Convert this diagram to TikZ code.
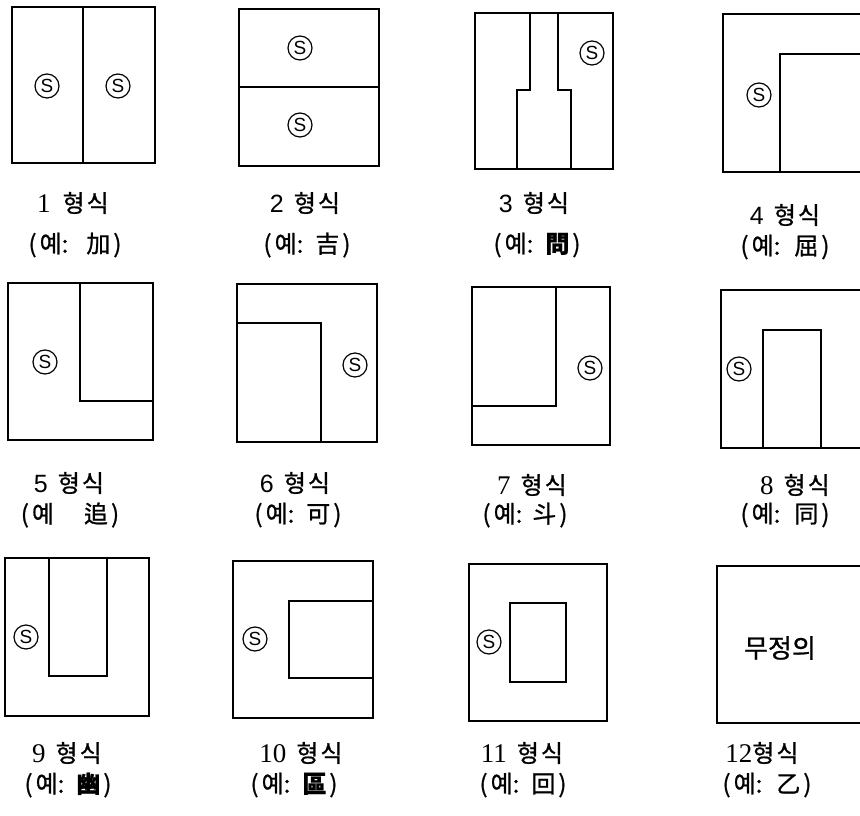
\documentclass[tikz,border=0pt]{standalone}
\usepackage{fontspec}
\newfontfamily\kr[FakeBold=0.9]{Noto Sans CJK KR}
\newfontfamily\numsans{Liberation Sans}
\newfontfamily\numserif{Liberation Serif}
\newcommand\ns[1]{{\numsans\fontsize{25}{25}\selectfont #1}}
\newcommand\nr[1]{{\numserif\fontsize{27}{27}\selectfont #1}}
\begin{document}
\begin{tikzpicture}[x=1pt,y=-1pt,
  frame/.style={draw, line width=1.8pt, line join=miter},
  part/.style={draw, line width=1.6pt},
  smark/.style={circle, draw, line width=1.2pt, minimum size=24pt, inner sep=0pt, font=\numsans\fontsize{19}{19}\selectfont},
  lab/.style={font=\kr\fontsize{24}{24}\selectfont, inner sep=0pt, anchor=center},
  big/.style={font=\kr\fontsize{26}{26}\selectfont, inner sep=0pt, anchor=center}]
\useasboundingbox (0,0) rectangle (860,816);
\clip (0,0) rectangle (860,816);
% ---------- row 1 ----------
% 1
\draw[frame] (12,7) rectangle (155,163);
\draw[part] (83,7) -- (83,163);
\node[smark] (s1a) at (47,86) {S};
\node[smark] (s1b) at (118,86) {S};
\node[lab] (l1a) at (73,203) {\nr{1}\hspace{12pt}형\hspace{2pt}식};
\node[lab] (l1b) at (75,245) {(\hspace{3pt}예:\hspace{18pt}加\hspace{3pt})};
% 2
\draw[frame] (239,9) rectangle (379,166);
\draw[part] (239,87) -- (379,87);
\node[smark] (s2a) at (300,48) {S};
\node[smark] (s2b) at (300,125) {S};
\node[lab] (l2a) at (305,203) {\ns{2}\hspace{10pt}형\hspace{2pt}식};
\node[lab] (l2b) at (307,245) {(\hspace{3pt}예:\hspace{12pt}吉\hspace{3pt})};
% 3
\draw[frame] (475,13) rectangle (613,169);
\draw[part] (530,13) -- (530,90) -- (517,90) -- (517,169);
\draw[part] (558,13) -- (558,90) -- (571,90) -- (571,169);
\node[smark] (s3) at (592,53) {S};
\node[lab] (l3a) at (534,203) {\ns{3}\hspace{10pt}형\hspace{2pt}식};
\node[lab] (l3b) at (537,245) {(\hspace{3pt}예:\hspace{12pt}\textbf{問}\hspace{3pt})};
% 4
\draw[frame] (723,14) rectangle (880,172);
\draw[part] (780,172) -- (780,54) -- (880,54);
\node[smark] (s4) at (759,95) {S};
\node[lab] (l4a) at (785,215) {\ns{4}\hspace{10pt}형\hspace{2pt}식};
\node[lab] (l4b) at (785,247) {(\hspace{3pt}예:\hspace{14pt}屈\hspace{3pt})};
% ---------- row 2 ----------
% 5
\draw[frame] (8,283) rectangle (153,440);
\draw[part] (80,283) -- (80,401) -- (153,401);
\node[smark] (s5) at (45,362) {S};
\node[lab] (l5a) at (69,483) {\ns{5}\hspace{10pt}형\hspace{2pt}식};
\node[lab] (l5b) at (70,515) {(\hspace{3pt}예\hspace{30pt}追\hspace{3pt})};
% 6
\draw[frame] (237,284) rectangle (377,442);
\draw[part] (237,323) -- (321,323) -- (321,442);
\node[smark] (s6) at (355,365) {S};
\node[lab] (l6a) at (295,483) {\ns{6}\hspace{10pt}형\hspace{2pt}식};
\node[lab] (l6b) at (298,515) {(\hspace{3pt}예:\hspace{12pt}可\hspace{3pt})};
% 7
\draw[frame] (472,287) rectangle (610,445);
\draw[part] (556,287) -- (556,406) -- (472,406);
\node[smark] (s7) at (590,368) {S};
\node[lab] (l7a) at (532,485) {\nr{7}\hspace{10pt}형\hspace{2pt}식};
\node[lab] (l7b) at (525,515) {(\hspace{3pt}예:\hspace{10pt}斗\hspace{3pt})};
% 8
\draw[frame] (721,290) rectangle (880,448);
\draw[part] (763,448) -- (763,330) -- (821,330) -- (821,448);
\node[smark] (s8) at (739,369) {S};
\node[lab] (l8a) at (795,485) {\nr{8}\hspace{10pt}형\hspace{2pt}식};
\node[lab] (l8b) at (785,515) {(\hspace{3pt}예:\hspace{14pt}同\hspace{3pt})};
% ---------- row 3 ----------
% 9
\draw[frame] (5,558) rectangle (149,716);
\draw[part] (49,558) -- (49,676) -- (107,676) -- (107,558);
\node[smark] (s9) at (26,637) {S};
\node[lab] (l9a) at (67,753) {\nr{9}\hspace{10pt}형\hspace{2pt}식};
\node[lab] (l9b) at (68,785) {(\hspace{3pt}예:\hspace{12pt}\textbf{幽}\hspace{3pt})};
% 10
\draw[frame] (233,561) rectangle (373,718);
\draw[part] (373,601) -- (289,601) -- (289,678) -- (373,678);
\node[smark] (s10) at (255,639) {S};
\node[lab] (l10a) at (301,753) {\nr{10}\hspace{10pt}형\hspace{2pt}식};
\node[lab] (l10b) at (294,785) {(\hspace{3pt}예:\hspace{12pt}\textbf{區}\hspace{3pt})};
% 11
\draw[frame] (469,564) rectangle (607,721);
\draw[part] (510,603) rectangle (566,682);
\node[smark] (s11) at (489,642) {S};
\node[lab] (l11a) at (522,753) {\nr{11}\hspace{10pt}형\hspace{2pt}식};
\node[lab] (l11b) at (523,785) {(\hspace{3pt}예:\hspace{12pt}回\hspace{3pt})};
% 12
\draw[frame] (717,566) rectangle (880,723);
\node[big] (t12) at (780,648) {무정의};
\node[lab] (l12a) at (762,753) {\nr{12}형\hspace{2pt}식};
\node[lab] (l12b) at (767,785) {(\hspace{3pt}예:\hspace{14pt}乙\hspace{3pt})};
\end{tikzpicture}
\end{document}
